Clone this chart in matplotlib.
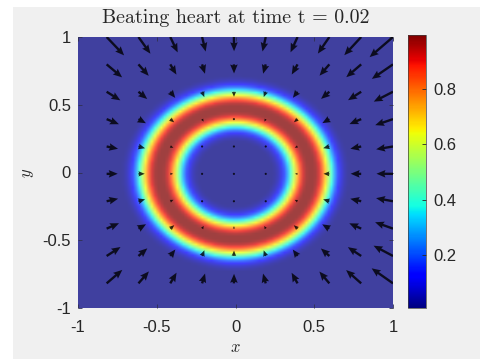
"""
heart.py - ring density with inward velocity arrows, matlab style look.
"""
import numpy as np
import matplotlib
matplotlib.use('Agg')
import matplotlib.pyplot as plt
from matplotlib.patches import Rectangle

# picture values
title_time = 0.02
ring_center = (0.0, -0.01)
ring_radius = 0.485
ring_halfwidth = 0.137
ring_power = 2.6
grid_n = 100
arrow_step = 10          # every 10th grid node gets an arrow
arrow_gain = 0.105       # v = -gain * r * (x, y)
clim = (0.008, 0.995)

xticks = [-1, -0.5, 0, 0.5, 1]
xticklabels = ['-1', '-0.5', '0', '0.5', '1']
yticks = [-1, -0.5, 0, 0.5, 1]
yticklabels = ['-1', '-0.5', '0', '0.5', '1']
cbticks = [0.2, 0.4, 0.6, 0.8]
cbticklabels = ['0.2', '0.4', '0.6', '0.8']

plt.rcParams['mathtext.fontset'] = 'cm'

xs = np.linspace(-1, 1, grid_n)
X, Y = np.meshgrid(xs, xs)
R = np.hypot(X - ring_center[0], Y - ring_center[1])
F = np.exp(-(np.abs(R - ring_radius) / ring_halfwidth) ** ring_power)

Xq = X[arrow_step - 1::arrow_step, arrow_step - 1::arrow_step]
Yq = Y[arrow_step - 1::arrow_step, arrow_step - 1::arrow_step]
Rq = np.hypot(Xq, Yq)
U = -arrow_gain * Rq * Xq
V = -arrow_gain * Rq * Yq

fig = plt.figure(figsize=(4.82, 3.59), dpi=100, facecolor='white')
fig.patches.append(Rectangle((13 / 482, 0), 467 / 482, 352 / 359,
                             transform=fig.transFigure, facecolor='#f0f0f0',
                             edgecolor='none', zorder=-10))

ax = fig.add_axes([78 / 482, 51 / 359, 315 / 482, 271 / 359])
ax.set_facecolor('white')
img = ax.imshow(F, cmap='jet', vmin=clim[0], vmax=clim[1], alpha=0.75,
                origin='lower', extent=(-1, 1, -1, 1), aspect='auto',
                interpolation='bilinear', zorder=1)
ax.quiver(Xq, Yq, U, V, angles='xy', scale_units='xy', scale=1,
          color='black', alpha=0.8, width=0.0075, headwidth=3.2,
          headlength=3.8, headaxislength=3.4, zorder=2)

ax.set_xlim(-1, 1)
ax.set_ylim(-1, 1)
ax.set_xticks(xticks)
ax.set_xticklabels(xticklabels)
ax.set_yticks(yticks)
ax.set_yticklabels(yticklabels)
for s in ax.spines.values():
    s.set_visible(False)
ax.tick_params(direction='in', length=3, width=0.6, color='#303050',
               labelsize=12, pad=5, top=True, right=True)
for lab in ax.get_xticklabels() + ax.get_yticklabels():
    lab.set_family('Liberation Sans')
    lab.set_color('#262626')
ax.tick_params(axis='x', pad=9)

ax.set_title('Beating heart at time t = %.2f' % title_time, family='cmr10',
             fontsize=14.4, color='#262626', pad=10)
ax.set_xlabel('$x$', fontsize=12, color='#262626', labelpad=2)
ax.set_ylabel('$y$', fontsize=12, color='#262626', labelpad=5)

cax = fig.add_axes([408 / 482, 51 / 359, 18 / 482, 273 / 359])
cb = fig.colorbar(plt.cm.ScalarMappable(norm=img.norm, cmap='jet'), cax=cax)
cb.set_ticks(cbticks)
cb.set_ticklabels(cbticklabels)
cb.outline.set_linewidth(0.5)
cb.outline.set_edgecolor('#404040')
cax.tick_params(direction='in', length=3, width=0.6, labelsize=12, pad=5,
                color='#262626')
for lab in cax.get_yticklabels():
    lab.set_family('Liberation Sans')
    lab.set_color('#262626')

fig.savefig('out.png', dpi=100, facecolor=fig.get_facecolor())
